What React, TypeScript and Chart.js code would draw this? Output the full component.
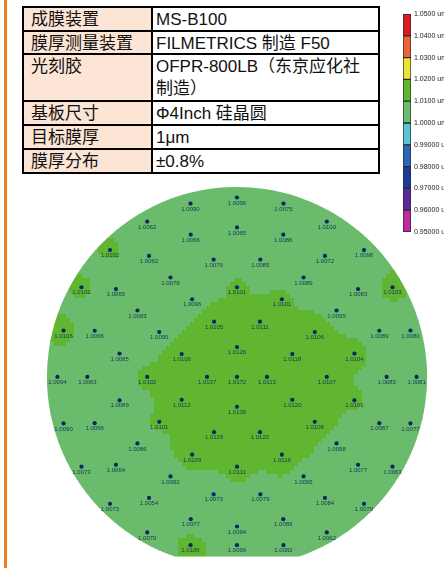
import React, { useEffect, useRef } from "react";
import { Chart, registerables } from "chart.js";

Chart.register(...registerables);

// ---- process conditions table ----
const tableKeys = ["成膜装置", "膜厚测量装置", "光刻胶", "基板尺寸", "目标膜厚", "膜厚分布"];
const tableValues = [
  ["MS-B100"],
  ["FILMETRICS 制造 F50"],
  ["OFPR-800LB（东京应化社", "制造）"],
  ["Φ4Inch 硅晶圆"],
  ["1μm"],
  ["±0.8%"],
];

// ---- colour scale (µm) ----
const levelTicks = [0.95, 0.96, 0.97, 0.98, 0.99, 1.0, 1.01, 1.02, 1.03, 1.04, 1.05];
const levelLabels = [
  "0.95000 um", "0.96000 um", "0.97000 um", "0.98000 um", "0.99000 um",
  "1.0000 um", "1.0100 um", "1.0200 um", "1.0300 um", "1.0400 um", "1.0500 um",
];
const levelColors = [
  "#c12a9e", "#5a2c9b", "#1c3b94", "#2a67b5", "#5bc5d6",
  "#6abc6c", "#61b631", "#ece537", "#ea6636", "#de1b24",
];

// ---- wafer geometry (mm) ----
const WAFER_RADIUS = 50.8;
const FLAT_Y = -48.0;
const EDGE_EXCLUSION = 3;

// measurement rings: radius (mm) and angle of the first site (deg)
const ringRadius = [0, 8, 16, 24, 32, 40, 48];
const ringStart = [0, 0, 22.5, 0, 11.25, 0, 0];

// measured thickness (µm), counter-clockwise from the first site of each ring
const ring0 = [1.0172];
const ring1 = [1.0113, 1.0126, 1.0137, 1.0136];
const ring2 = [1.0118, 1.0111, 1.0105, 1.0106, 1.0112, 1.0129, 1.0122, 1.012];
const ring3 = [1.0107, 1.0106, 1.0101, 1.0101, 1.0096, 1.0095, 1.0102, 1.0101, 1.0109, 1.0111, 1.0116, 1.0106];
const ring4 = [
  1.0104, 1.0095, 1.0089, 1.0085, 1.0079, 1.0079, 1.0083, 1.0085,
  1.0089, 1.0086, 1.0092, 1.0073, 1.0079, 1.0095, 1.0098, 1.0101,
];
const ring5 = [
  1.0083, 1.0089, 1.0083, 1.0072, 1.0086, 1.0065, 1.0066, 1.0062, 1.0065, 1.0066,
  1.0063, 1.0056, 1.0064, 1.0054, 1.0077, 1.0094, 1.0089, 1.0084, 1.0077, 1.0087,
];
const ring6 = [
  1.0081, 1.008, 1.0103, 1.0098, 1.01, 1.0075, 1.0096, 1.009, 1.0062, 1.0102, 1.0102, 1.0106,
  1.0094, 1.009, 1.0073, 1.0073, 1.007, 1.0106, 1.0099, 1.0082, 1.0062, 1.0079, 1.0063, 1.0077,
];
const ringValues = [ring0, ring1, ring2, ring3, ring4, ring5, ring6];

type Site = { x: number; y: number; v: number };

const sites: Site[] = ringValues.flatMap((vals, i) =>
  vals.map((v, k) => {
    const a = ((ringStart[i] + (k * 360) / vals.length) * Math.PI) / 180;
    const x = ringRadius[i] * Math.cos(a);
    // sites near the orientation flat are pulled inside the edge exclusion
    const y = Math.max(ringRadius[i] * Math.sin(a), FLAT_Y + EDGE_EXCLUSION);
    return { x, y, v };
  })
);

// ---- layout ----
const MAP_W = 414;
const MAP_H = 390;
const PX_PER_MM = 192 / WAFER_RADIUS;
const CENTER_X = 207;
const CENTER_Y = 199;
const CELL = 4;
const IDW_POWER = 3;

const rowEdges = [7, 31, 54, 101, 125, 149, 173];
const colEdges = [23, 152, 379];

function thicknessAt(xm: number, ym: number): number {
  let num = 0;
  let den = 0;
  for (const s of sites) {
    const dx = xm - s.x;
    const dy = ym - s.y;
    const d2 = dx * dx + dy * dy;
    if (d2 < 1e-9) return s.v;
    const w = 1 / Math.pow(d2, IDW_POWER / 2);
    num += w * s.v;
    den += w;
  }
  return num / den;
}

function colorFor(v: number): string {
  for (let i = 0; i < levelColors.length; i++) {
    if (v < levelTicks[i + 1] - 1e-9) return levelColors[Math.max(i, 0)];
  }
  return levelColors[levelColors.length - 1];
}

const waferMapPlugin = {
  id: "waferMap",
  beforeDatasetsDraw(chart: any) {
    const { ctx, scales } = chart;
    const xs = scales.x;
    const ys = scales.y;
    const cx = xs.getPixelForValue(0);
    const cy = ys.getPixelForValue(0);
    const r = xs.getPixelForValue(WAFER_RADIUS) - cx;
    const half = Math.acos(-FLAT_Y / WAFER_RADIUS);

    ctx.save();
    ctx.beginPath();
    ctx.arc(cx, cy, r, Math.PI / 2 + half, Math.PI / 2 - half + Math.PI * 2);
    ctx.closePath();
    ctx.clip();

    const x0 = Math.floor(cx - r);
    const x1 = Math.ceil(cx + r);
    const y0 = Math.floor(cy - r);
    const y1 = Math.ceil(ys.getPixelForValue(FLAT_Y));
    for (let py = y0; py < y1; py += CELL) {
      for (let px = x0; px < x1; px += CELL) {
        const v = thicknessAt(xs.getValueForPixel(px + CELL / 2), ys.getValueForPixel(py + CELL / 2));
        ctx.fillStyle = colorFor(v);
        ctx.fillRect(px, py, CELL + 0.5, CELL + 0.5);
      }
    }
    ctx.restore();
  },
};

const siteLabelPlugin = {
  id: "siteLabels",
  afterDatasetsDraw(chart: any) {
    const { ctx, scales } = chart;
    ctx.save();
    ctx.font = '6px "Liberation Sans", Arial, sans-serif';
    ctx.fillStyle = "#133856";
    ctx.textAlign = "center";
    ctx.textBaseline = "middle";
    for (const s of sites) {
      const px = scales.x.getPixelForValue(s.x);
      const py = scales.y.getPixelForValue(s.y);
      ctx.fillText(s.v.toFixed(4), px, py + 5.5);
    }
    ctx.restore();
  },
};

export default function App() {
  const mapRef = useRef<HTMLCanvasElement>(null);
  const barRef = useRef<HTMLCanvasElement>(null);

  useEffect(() => {
    const map = new Chart(mapRef.current as HTMLCanvasElement, {
      type: "scatter",
      data: {
        datasets: [
          {
            data: sites.map((s) => ({ x: s.x, y: s.y })),
            backgroundColor: "#0b2766",
            borderWidth: 0,
            pointRadius: 2.1,
            pointHoverRadius: 2.1,
          },
        ],
      },
      options: {
        responsive: false,
        animation: false,
        events: [],
        layout: { padding: 0 },
        plugins: { legend: { display: false }, tooltip: { enabled: false } },
        scales: {
          x: {
            type: "linear",
            display: false,
            min: -CENTER_X / PX_PER_MM,
            max: (MAP_W - CENTER_X) / PX_PER_MM,
          },
          y: {
            type: "linear",
            display: false,
            min: -(MAP_H - CENTER_Y) / PX_PER_MM,
            max: CENTER_Y / PX_PER_MM,
          },
        },
      },
      plugins: [waferMapPlugin, siteLabelPlugin],
    });

    const bar = new Chart(barRef.current as HTMLCanvasElement, {
      type: "bar",
      data: {
        labels: ["thickness"],
        datasets: levelColors.map((c, i) => ({
          data: [[levelTicks[i], levelTicks[i + 1]]] as any,
          backgroundColor: c,
          borderColor: "#2a2a2a",
          borderWidth: 1,
          borderSkipped: false,
          barPercentage: 1,
          categoryPercentage: 1,
          grouped: false,
        })),
      },
      options: {
        responsive: false,
        animation: false,
        events: [],
        layout: { padding: { left: 8, right: 0, top: 10, bottom: 12 } },
        plugins: { legend: { display: false }, tooltip: { enabled: false } },
        scales: {
          x: { display: false },
          y: {
            position: "right",
            min: levelTicks[0],
            max: levelTicks[levelTicks.length - 1],
            grid: { display: false, drawTicks: false },
            border: { display: false },
            afterBuildTicks: (scale: any) => {
              scale.ticks = levelTicks.map((v) => ({ value: v }));
            },
            afterFit: (scale: any) => {
              scale.width = 33;
            },
            ticks: {
              padding: 3,
              autoSkip: false,
              color: "#222",
              font: { size: 7, family: '"Liberation Sans", Arial, sans-serif' },
              callback: (_v: any, i: number) => levelLabels[i],
            },
          },
        },
      },
    });

    return () => {
      map.destroy();
      bar.destroy();
    };
  }, []);

  const tableLeft = colEdges[0] - 1;
  const tableTop = rowEdges[0] - 1;

  return (
    <div
      style={{
        position: "fixed",
        left: 0,
        top: 0,
        width: 444,
        height: 568,
        background: "#fff",
        overflow: "hidden",
        fontFamily: '"Liberation Sans", "Noto Sans CJK SC", sans-serif',
        color: "#111",
      }}
    >
      <div style={{ position: "absolute", left: 4, top: 0, width: 3, height: 568, background: "#ee7f1d" }} />

      <div
        style={{
          position: "absolute",
          left: tableLeft,
          top: tableTop,
          width: colEdges[2] - colEdges[0] + 2,
          height: rowEdges[rowEdges.length - 1] - rowEdges[0] + 2,
          background: "#000",
        }}
      >
        {tableKeys.map((key, i) =>
          [key, tableValues[i]].map((content, j) => (
            <div
              key={`${i}-${j}`}
              style={{
                position: "absolute",
                left: colEdges[j] + 1 - tableLeft,
                top: rowEdges[i] + 1 - tableTop,
                width: colEdges[j + 1] - colEdges[j] - 2,
                height: rowEdges[i + 1] - rowEdges[i] - 2,
                background: j === 0 ? "#fce5d5" : "#fff",
                boxSizing: "border-box",
                paddingLeft: j === 0 ? 7 : 3,
                paddingTop: 1,
                fontSize: 17,
                lineHeight: "22px",
                whiteSpace: "nowrap",
                overflow: "hidden",
              }}
            >
              {Array.isArray(content)
                ? content.map((line, k) => <div key={k}>{line}</div>)
                : content}
            </div>
          ))
        )}
      </div>

      <canvas ref={barRef} width={49} height={240} style={{ position: "absolute", left: 395, top: 4 }} />
      <canvas ref={mapRef} width={MAP_W} height={MAP_H} style={{ position: "absolute", left: 30, top: 178 }} />
    </div>
  );
}
